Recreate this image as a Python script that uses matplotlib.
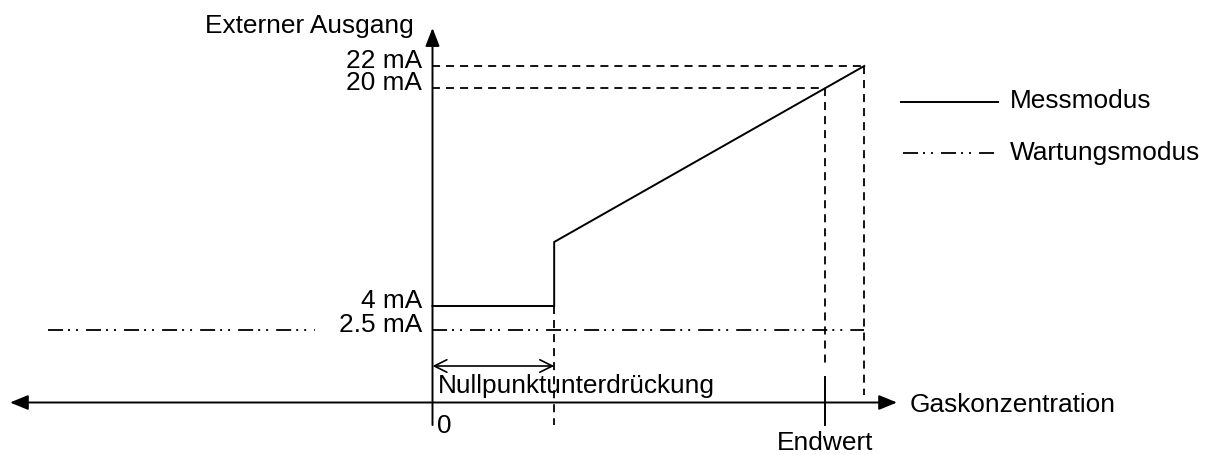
import numpy as np
import matplotlib
matplotlib.use('Agg')
import matplotlib.pyplot as plt
from matplotlib.patches import FancyArrowPatch

plt.rcParams['font.family'] = ['Liberation Sans', 'DejaVu Sans']
plt.rcParams['lines.scale_dashes'] = False

# ── Data ─────────────────────────────────────────────────────────────────────
# output levels on the y axis (mA)
levels_ma = [22, 20, 4, 2.5]
level_labels = ['22 mA', '20 mA', '4 mA', '2.5 mA']

# measuring mode, x in % of full scale (Endwert = 100)
zero_supp = 31
full_scale = 100
meas_x = [0, zero_supp, zero_supp, 110]
meas_y = [4, 4, 6, 22]

# maintenance mode holds 2.5 mA
maint_ma = 2.5
maint_left_x = [-98, -30]
maint_right_x = [0, 110]

legend_labels = ['Messmodus', 'Wartungsmodus']

# ── Canvas / schematic scale ─────────────────────────────────────────────────
W, H = 1210, 455
X0_PX, PX_PER_PCT = 432.5, 3.925
# schematic (non-linear) output axis: mA -> height in px from the bottom
MA_ANCHORS = [-3, 0, 2.5, 4, 6, 22, 30]
HEIGHTS = [-34.5, 52.5, 125, 149, 213, 389, 477]

def fwd(v):
    return np.interp(v, MA_ANCHORS, HEIGHTS)

def inv(h):
    return np.interp(h, HEIGHTS, MA_ANCHORS)

def xd(px):
    return (px - X0_PX) / PX_PER_PCT

def yd(py):
    return float(inv(H - py))

fig = plt.figure(figsize=(W / 100, H / 100), dpi=100)
fig.patch.set_facecolor('white')
ax = fig.add_axes([0, 0, 1, 1])
ax.set_yscale('function', functions=(fwd, inv))
ax.set_xlim(xd(0), xd(W))
ax.set_ylim(yd(H), yd(0))
ax.axis('off')

FS = 18.9
LW = 1.4
DASH = dict(color='black', lw=1.3, dashes=(5.8, 4.3), dash_capstyle='butt')
DASHDOT2 = (10.8, 3.6, 1.44, 4.3, 1.44, 5.8)
MAINT = dict(color='black', lw=1.3, dashes=DASHDOT2, dash_capstyle='butt')


def arrow(p0, p1, style, hl, hw, lw=LW):
    ax.add_patch(FancyArrowPatch(p0, p1,
                                 arrowstyle=f'{style},head_length={hl},head_width={hw}',
                                 mutation_scale=1, lw=lw, color='black',
                                 shrinkA=0, shrinkB=0, zorder=4))


def label(x, y, text, ha='left'):
    ax.text(x, y, text, fontsize=FS, ha=ha, va='baseline', color='black')


# ── Axes ─────────────────────────────────────────────────────────────────────
arrow((xd(10), 0), (xd(897), 0), '<|-|>', 11, 4.5)
arrow((0, yd(425)), (0, yd(28)), '-|>', 11, 4.3)
label(xd(205), yd(33), 'Externer Ausgang')
label(xd(910), yd(412), 'Gaskonzentration')
label(xd(437), yd(433), '0')

# level labels
for lvl, txt in zip(levels_ma, level_labels):
    ax.annotate(txt, (0, lvl), xytext=(-7.6, -1.5), textcoords='offset points',
                fontsize=FS, ha='right', va='baseline')

# ── Guide lines ──────────────────────────────────────────────────────────────
ax.plot([0, meas_x[-1]], [meas_y[-1]] * 2, **DASH)
ax.plot([meas_x[-1]] * 2, [meas_y[-1], yd(395)], **DASH)
ax.plot([0, full_scale], [20, 20], **DASH)
ax.plot([full_scale] * 2, [20, yd(367)], **DASH)
ax.plot([zero_supp] * 2, [meas_y[1], yd(425)], **DASH)
ax.plot([full_scale] * 2, [yd(377), yd(425)], color='black', lw=LW)
label(full_scale, yd(450), 'Endwert', ha='center')

# ── Measuring / maintenance curves ───────────────────────────────────────────
ax.plot(meas_x, meas_y, color='black', lw=LW, solid_joinstyle='miter', zorder=3)
ax.plot(maint_left_x, [maint_ma] * 2, **MAINT)
ax.plot(maint_right_x, [maint_ma] * 2, **MAINT)

# zero suppression span
arrow((0, yd(366)), (zero_supp, yd(366)), '<->', 9, 4.5, lw=1.2)
label(xd(438), yd(393), 'Nullpunktunterdrückung')

# ── Legend ───────────────────────────────────────────────────────────────────
ax.plot([xd(901), xd(998)], [yd(102)] * 2, color='black', lw=LW)
ax.plot([xd(903), xd(995)], [yd(153)] * 2, **MAINT)
label(xd(1010), yd(108), legend_labels[0])
label(xd(1010), yd(160), legend_labels[1])

fig.savefig('out.png', dpi=100, facecolor='white')
